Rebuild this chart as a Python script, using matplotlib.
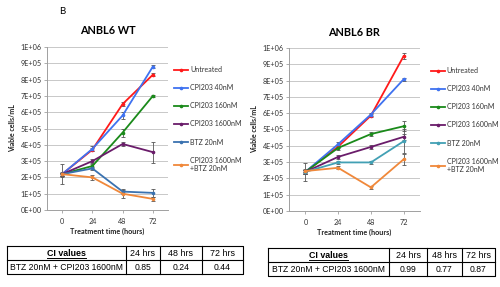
import numpy as np
import matplotlib
matplotlib.use('Agg')
import matplotlib.pyplot as plt

plt.rcParams['font.family'] = ['Lato', 'DejaVu Sans']

hours = ['0', '24', '48', '72']
labels = ['Untreated', 'CPI203 40nM', 'CPI203 160nM', 'CPI203 1600nM',
          'BTZ 20nM', 'CPI203 1600nM\n+BTZ 20nM']
ytick_labels = ['0E+00', '1E+05', '2E+05', '3E+05', '4E+05', '5E+05',
                '6E+05', '7E+05', '8E+05', '9E+05', '1E+06']

# viable cells/mL, units of 1E+05
wt_vals = [
    [2.2, 3.7, 6.5, 8.3],
    [2.2, 3.75, 5.8, 8.8],
    [2.2, 2.7, 4.75, 7.0],
    [2.2, 3.0, 4.05, 3.55],
    [2.2, 2.55, 1.13, 1.05],
    [2.2, 2.0, 1.0, 0.68],
]
wt_err = [
    [0.15, 0.1, 0.1, 0.1],
    [0.1, 0.15, 0.2, 0.1],
    [0.1, 0.1, 0.25, 0.05],
    [0.1, 0.1, 0.1, 0.65],
    [0.6, 0.1, 0.15, 0.25],
    [0.1, 0.15, 0.25, 0.1],
]
br_vals = [
    [2.4, 3.95, 5.85, 9.5],
    [2.4, 4.1, 5.92, 8.08],
    [2.4, 3.87, 4.72, 5.2],
    [2.4, 3.32, 3.93, 4.55],
    [2.4, 2.98, 2.98, 4.28],
    [2.45, 2.65, 1.45, 3.17],
]
br_err = [
    [0.1, 0.1, 0.1, 0.2],
    [0.1, 0.15, 0.1, 0.1],
    [0.1, 0.1, 0.1, 0.3],
    [0.1, 0.1, 0.1, 0.2],
    [0.55, 0.1, 0.1, 0.75],
    [0.1, 0.1, 0.1, 0.35],
]
wt_colors = ['#ff1a1a', '#3f72f0', '#1a8a1a', '#6a1c6a', '#3a72b0', '#f0883a']
br_colors = ['#ff1a1a', '#3f72f0', '#1a8a1a', '#6a1c6a', '#42a0b4', '#f0883a']

ci_header = ['CI values', '24 hrs', '48 hrs', '72 hrs']
wt_ci = ['BTZ 20nM + CPI203 1600nM', '0.85', '0.24', '0.44']
br_ci = ['BTZ 20nM + CPI203 1600nM', '0.99', '0.77', '0.87']

W, H = 500, 287
fig = plt.figure(figsize=(5, 2.87), dpi=100)


def px_axes(x0, y0, x1, y1):
    return fig.add_axes([x0 / W, 1 - y1 / H, (x1 - x0) / W, (y1 - y0) / H])


def draw_chart(ax, vals, errs, colors, title, leg_x):
    x = np.arange(len(hours))
    for v, e, c, lab in zip(vals, errs, colors, labels):
        v = np.array(v) * 1e5
        e = np.array(e) * 1e5
        ax.errorbar(x, v, yerr=e, fmt='none', ecolor='#555555', elinewidth=0.6,
                    capsize=1.3, capthick=0.6, zorder=2)
        ax.plot(x, v, color=c, lw=1.3, marker='o', ms=1.6, label=lab, zorder=3)
    ax.set_xlim(-0.5, 3.5)
    ax.set_ylim(0, 1e6)
    ax.set_yticks(np.linspace(0, 1e6, len(ytick_labels)))
    ax.set_yticklabels(ytick_labels)
    ax.set_xticks(x)
    ax.set_xticklabels(hours)
    ax.grid(axis='y', color='#c8c8c8', lw=0.7)
    ax.set_axisbelow(True)
    for s in ['top', 'right']:
        ax.spines[s].set_visible(False)
    for s in ['left', 'bottom']:
        ax.spines[s].set_color('#a0a0a0')
        ax.spines[s].set_linewidth(0.7)
    ax.tick_params(axis='both', length=2, width=0.6, color='#a0a0a0',
                   labelsize=5.2, labelcolor='#333333', pad=2)
    ax.tick_params(axis='x', pad=4, labelsize=5.2)
    ax.set_xlabel('Treatment time (hours)', fontsize=5.2, fontweight='bold', labelpad=2, color='#222222')
    ax.set_ylabel('Viable cells/mL', fontsize=5, fontweight='bold', labelpad=3, color='#222222')
    ax.set_title(title, fontsize=7.8, fontweight='bold', pad=9)
    leg = ax.legend(loc='upper left', bbox_to_anchor=(leg_x, 0.9), frameon=False,
                    fontsize=5, handlelength=2.0, handletextpad=0.3,
                    labelspacing=1.6, borderaxespad=0)
    for t in leg.get_texts():
        t.set_color('#333333')


ax1 = px_axes(47, 47, 168, 210)
draw_chart(ax1, wt_vals, wt_err, wt_colors, 'ANBL6 WT', 1.03)
ax2 = px_axes(289, 48, 420, 211)
draw_chart(ax2, br_vals, br_err, br_colors, 'ANBL6 BR', 1.06)

fig.text(62 / W, 1 - 11 / H, 'B', fontsize=7, ha='center', va='center')


def draw_table(x_edges, y0, y1, header, row):
    ax = px_axes(x_edges[0], y0, x_edges[-1], y1)
    ax.set_xlim(x_edges[0], x_edges[-1])
    ax.set_ylim(y1, y0)
    ax.axis('off')
    ym = (y0 + y1) / 2
    ax.plot([x_edges[0], x_edges[-1], x_edges[-1], x_edges[0], x_edges[0]],
            [y0, y0, y1, y1, y0], color='black', lw=0.8, clip_on=False)
    ax.plot([x_edges[0], x_edges[-1]], [ym, ym], color='black', lw=0.8, clip_on=False)
    for xe in x_edges[1:-1]:
        ax.plot([xe, xe], [y0, y1], color='black', lw=0.8, clip_on=False)
    tf = ['Liberation Sans', 'DejaVu Sans']
    hdr_texts = []
    for i, (h, r) in enumerate(zip(header, row)):
        xc = (x_edges[i] + x_edges[i + 1]) / 2
        t = ax.text(xc, (y0 + ym) / 2 + 0.3, h, ha='center', va='center', fontsize=6.4,
                    family=tf, fontweight='bold' if i == 0 else 'normal')
        hdr_texts.append(t)
        ax.text(xc, (ym + y1) / 2 + 0.3, r, ha='center', va='center', fontsize=6.2, family=tf)
    return ax, hdr_texts[0]


tables = [
    draw_table([7, 126, 160, 202, 243], 246, 274, ci_header, wt_ci),
    draw_table([268, 389, 427, 462, 495], 248, 276, ci_header, br_ci),
]

# underline "CI values"
fig.canvas.draw()
r = fig.canvas.get_renderer()
for ax, t in tables:
    bb = t.get_window_extent(r)
    inv = ax.transData.inverted()
    (xa, ya), (xb, yb) = inv.transform([(bb.x0, bb.y0), (bb.x1, bb.y0)])
    ax.plot([xa, xb], [ya - 0.2, ya - 0.2], color='black', lw=0.7, clip_on=False)

fig.savefig('out.png', dpi=100)
